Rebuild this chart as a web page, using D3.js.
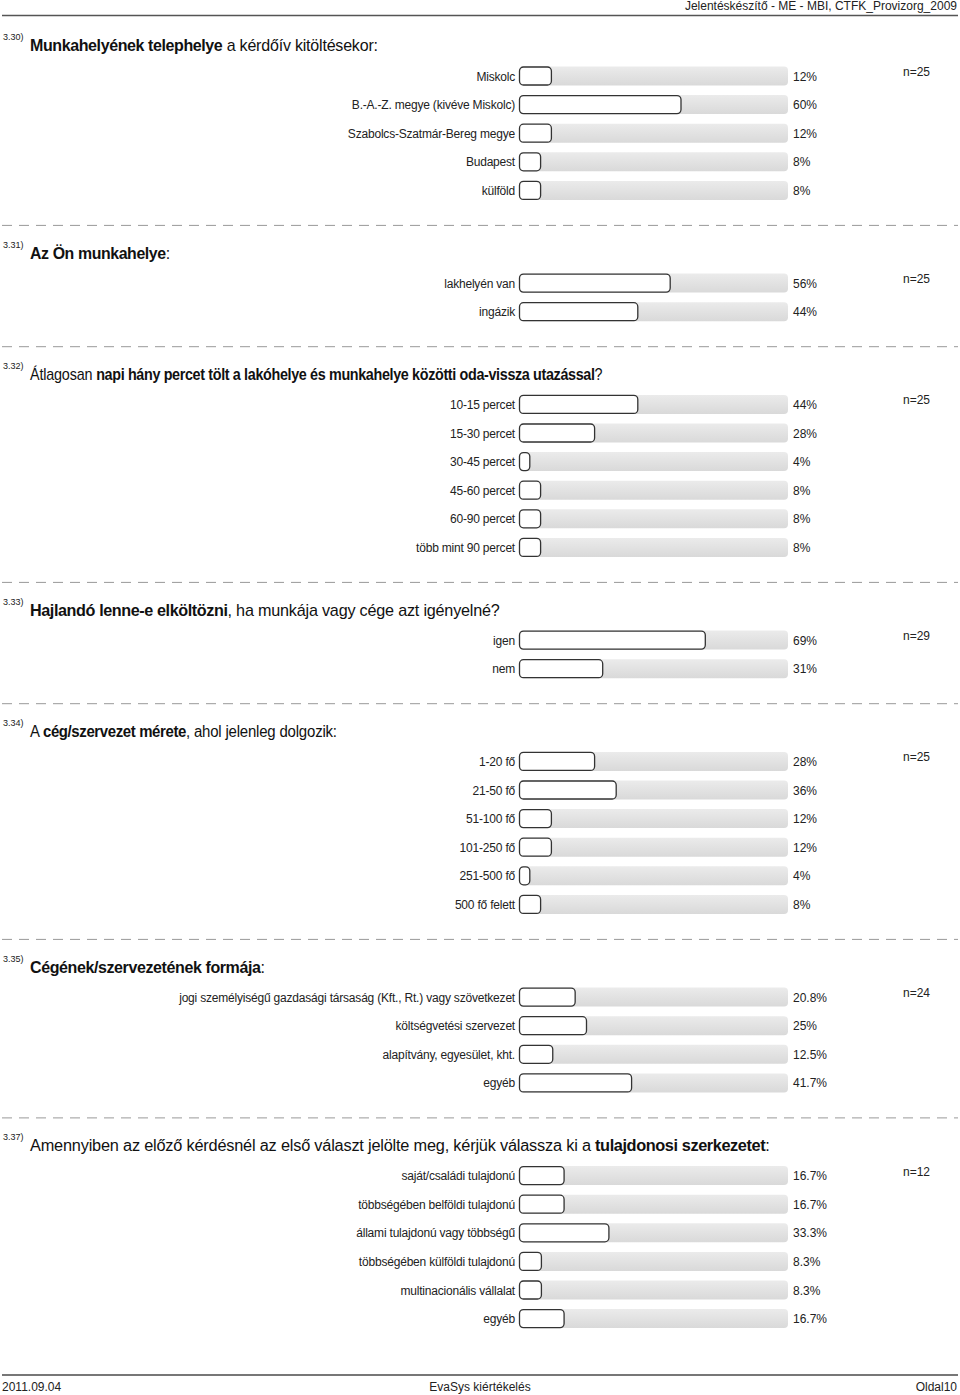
<!DOCTYPE html>
<html><head><meta charset="utf-8">
<script src="https://cdn.jsdelivr.net/npm/d3@7"></script>
<style>body{margin:0;background:#fff}svg{display:block;font-family:"Liberation Sans",Arial,sans-serif}</style>
</head><body><div id="chart"></div>
<script>
// ---- data ----
const sectionIds = ["3.30)", "3.31)", "3.32)", "3.33)", "3.34)", "3.35)", "3.37)"];
const titles = [
  [["Munkahelyének telephelye", 1], [" a kérdőív kitöltésekor:", 0]],
  [["Az Ön munkahelye", 1], [":", 0]],
  [["Átlagosan ", 0], ["napi hány percet tölt a lakóhelye és munkahelye közötti oda-vissza utazással", 1], ["?", 0]],
  [["Hajlandó lenne-e elköltözni", 1], [", ha munkája vagy cége azt igényelné?", 0]],
  [["A ", 0], ["cég/szervezet mérete", 1], [", ahol jelenleg dolgozik:", 0]],
  [["Cégének/szervezetének formája", 1], [":", 0]],
  [["Amennyiben az előző kérdésnél az első választ jelölte meg, kérjük válassza ki a ", 0], ["tulajdonosi szerkezetet", 1], [":", 0]]
];
const categories = [
  ["Miskolc", "B.-A.-Z. megye (kivéve Miskolc)", "Szabolcs-Szatmár-Bereg megye", "Budapest", "külföld"],
  ["lakhelyén van", "ingázik"],
  ["10-15 percet", "15-30 percet", "30-45 percet", "45-60 percet", "60-90 percet", "több mint 90 percet"],
  ["igen", "nem"],
  ["1-20 fő", "21-50 fő", "51-100 fő", "101-250 fő", "251-500 fő", "500 fő felett"],
  ["jogi személyiségű gazdasági társaság (Kft., Rt.) vagy szövetkezet", "költségvetési szervezet", "alapítvány, egyesület, kht.", "egyéb"],
  ["saját/családi tulajdonú", "többségében belföldi tulajdonú", "állami tulajdonú vagy többségű", "többségében külföldi tulajdonú", "multinacionális vállalat", "egyéb"]
];
const values = [
  [12, 60, 12, 8, 8],
  [56, 44],
  [44, 28, 4, 8, 8, 8],
  [69, 31],
  [28, 36, 12, 12, 4, 8],
  [20.8, 25, 12.5, 41.7],
  [16.7, 16.7, 33.3, 8.3, 8.3, 16.7]
];
const valueLabels = [
  ["12%", "60%", "12%", "8%", "8%"],
  ["56%", "44%"],
  ["44%", "28%", "4%", "8%", "8%", "8%"],
  ["69%", "31%"],
  ["28%", "36%", "12%", "12%", "4%", "8%"],
  ["20.8%", "25%", "12.5%", "41.7%"],
  ["16.7%", "16.7%", "33.3%", "8.3%", "8.3%", "16.7%"]
];
const nLabels = ["n=25", "n=25", "n=25", "n=29", "n=25", "n=24", "n=12"];
const headerText = "Jelentéskészítő - ME - MBI, CTFK_Provizorg_2009";
const footerTexts = ["2011.09.04", "EvaSys kiértékelés", "Oldal10"];

// ---- layout ----
const W = 960, H = 1395;
const titleEndX = [378, 170, 603, 500, 337, 265, 770];
const svg = d3.select("#chart").append("svg").attr("width", W).attr("height", H);
const defs = svg.append("defs");
const g = defs.append("linearGradient").attr("id", "trk").attr("x1", 0).attr("y1", 0).attr("x2", 0).attr("y2", 1);
g.append("stop").attr("offset", "0%").attr("stop-color", "#ebebeb");
g.append("stop").attr("offset", "100%").attr("stop-color", "#d9d9d9");

const x = d3.scaleLinear().domain([0, 100]).range([519, 789]);
const rowStep = 28.6, barH = 18;

// header
svg.append("text").attr("x", 957).attr("y", 10).attr("text-anchor", "end")
  .attr("font-size", 12).attr("fill", "#222").text(headerText);
svg.append("line").attr("x1", 2).attr("x2", 958).attr("y1", 15.5).attr("y2", 15.5)
  .attr("stroke", "#555").attr("stroke-width", 1.3);

let titleY = 45;
sectionIds.forEach((id, si) => {
  const firstRow = si === 0 ? 76 : titleY + 30.2;
  const cats = categories[si];
  const y = d3.scaleLinear().domain([0, 1]).range([firstRow, firstRow + rowStep]);
  const sec = svg.append("g");

  // section number
  sec.append("text").attr("x", 3).attr("y", titleY - 5).attr("font-size", 9).attr("fill", "#222").text(id);
  // title
  const t = sec.append("text").attr("x", 0).attr("y", 0).attr("font-size", 16).attr("fill", "#111");
  titles[si].forEach(([s, b]) => {
    t.append("tspan").attr("font-weight", b ? "bold" : "normal")
      .attr("letter-spacing", b ? -0.4 : -0.2).text(s);
  });
  const tw = t.node().getComputedTextLength();
  const k = (titleEndX[si] - 30) / tw;
  t.attr("transform", `translate(30,${titleY + 6}) scale(${k},1)`);

  const rows = sec.selectAll("g.row").data(cats.map((c, i) => ({c, v: values[si][i], l: valueLabels[si][i], i})))
    .enter().append("g").attr("class", "row")
    .attr("transform", d => `translate(0,${y(d.i)})`);
  rows.append("text").attr("x", 515).attr("y", 4.5).attr("text-anchor", "end")
    .attr("font-size", 12).attr("fill", "#222").attr("letter-spacing", -0.2).text(d => d.c);
  rows.append("rect").attr("x", x(0)).attr("y", -barH / 2 - 0.5).attr("width", x(100) - x(0) - 1)
    .attr("height", barH + 1).attr("rx", 4).attr("fill", "url(#trk)");
  rows.append("rect").attr("x", x(0) + 0.5).attr("y", -barH / 2).attr("width", d => x(d.v) - x(0) - 0.5)
    .attr("height", barH).attr("rx", 4).attr("fill", "#fff").attr("stroke", "#333").attr("stroke-width", 1.3);
  rows.append("text").attr("x", 793).attr("y", 4.5).attr("font-size", 12).attr("fill", "#222").text(d => d.l);

  sec.append("text").attr("x", 903).attr("y", firstRow).attr("font-size", 12).attr("fill", "#222").text(nLabels[si]);

  const lastRow = y(cats.length - 1);
  if (si < sectionIds.length - 1) {
    const sepY = lastRow + 35;
    svg.append("line").attr("x1", 2).attr("x2", 958).attr("y1", sepY).attr("y2", sepY)
      .attr("stroke", "#999").attr("stroke-width", 1).attr("stroke-dasharray", "10,7");
    titleY = sepY + 27.5;
  }
});

// footer
svg.append("line").attr("x1", 2).attr("x2", 958).attr("y1", 1375).attr("y2", 1375)
  .attr("stroke", "#777").attr("stroke-width", 2);
svg.append("text").attr("x", 2).attr("y", 1391).attr("font-size", 12).attr("fill", "#222").text(footerTexts[0]);
svg.append("text").attr("x", 480).attr("y", 1391).attr("text-anchor", "middle").attr("font-size", 12).attr("fill", "#222").text(footerTexts[1]);
svg.append("text").attr("x", 957).attr("y", 1391).attr("text-anchor", "end").attr("font-size", 12).attr("fill", "#222").text(footerTexts[2]);
</script></body></html>
